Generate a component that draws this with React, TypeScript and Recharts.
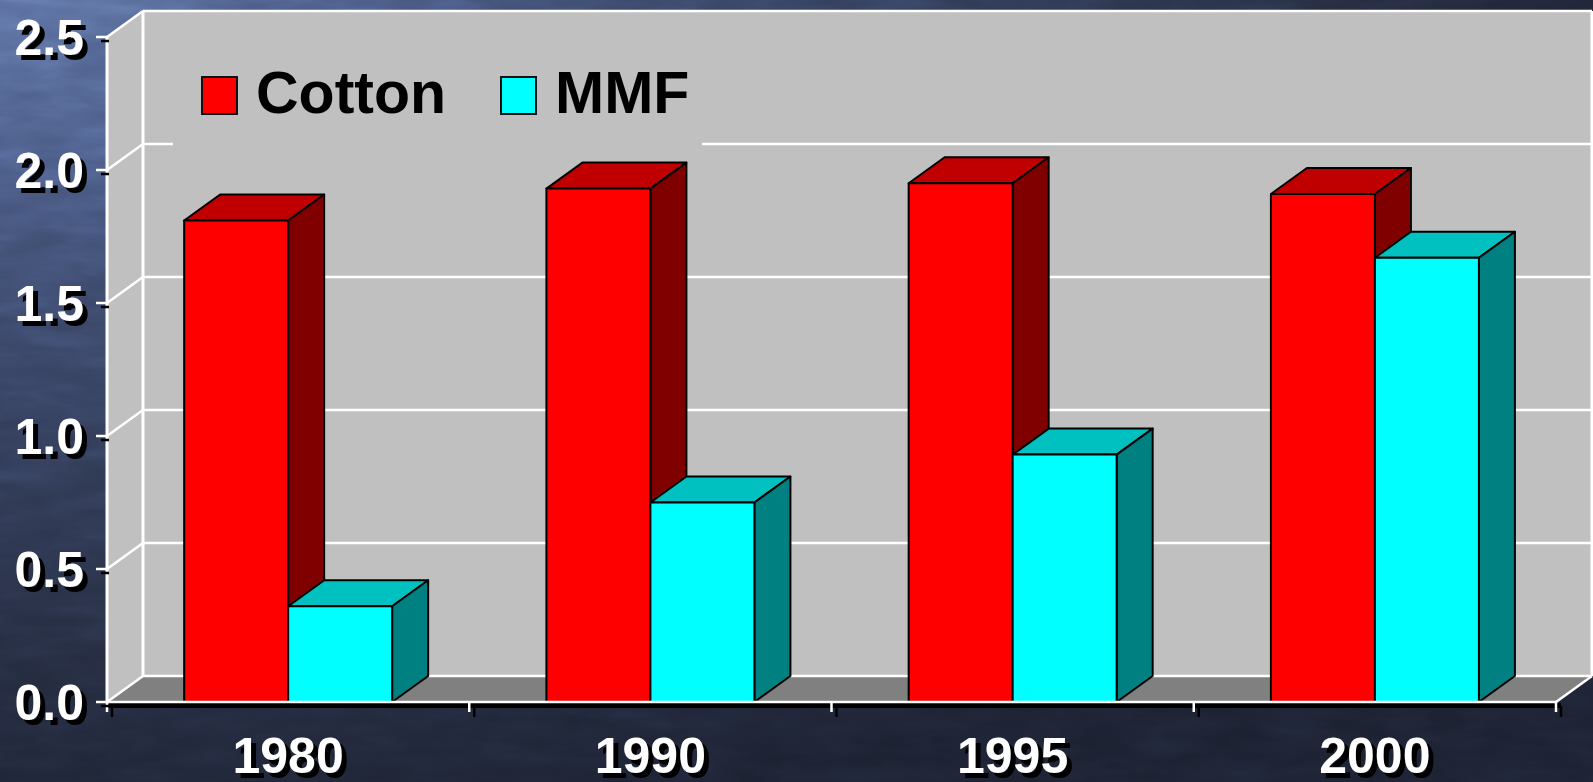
import React from 'react';
import { BarChart, Bar, XAxis, YAxis, CartesianGrid, Legend } from 'recharts';

// Fibre consumption by year
const years = ['1980', '1990', '1995', '2000'];
const cottonValues = [1.81, 1.93, 1.95, 1.91];
const mmfValues = [0.36, 0.75, 0.93, 1.67];
const yTicks = [0, 0.5, 1.0, 1.5, 2.0, 2.5];

const data = years.map((year, i) => ({ year, cotton: cottonValues[i], mmf: mmfValues[i] }));

const W = 1593;
const H = 782;
// depth of the 3D box (towards the back wall)
const DX = 36;
const DY = -26;
const FONT = '"Liberation Sans", Arial, Helvetica, sans-serif';
const SHADOW = 5;

const X_TICK_SIZE = 10;
const X_TICK_MARGIN = 26;
const Y_TICK_SIZE = 11;
const Y_TICK_MARGIN = 12;

const WALL = '#c0c0c0';
const FLOOR = '#808080';
const EDGE = '#ffffff';

// Walls, floor and grid lines of the 3D frame
const renderGridLine = (p: any) => {
  const { x1, x2, y1, index } = p;
  const pts: number[] = p.horizontalPoints || [y1];
  const top = typeof p.y === 'number' ? p.y : Math.min(...pts);
  const bottom = typeof p.height === 'number' ? p.y + p.height : Math.max(...pts);
  const left = x1;
  const right = x2;
  return (
    <g key={`grid-${index}`}>
      {index === 0 && (
        <g>
          <polygon
            points={`${left},${top} ${left + DX},${top + DY} ${left + DX},${bottom + DY} ${left},${bottom}`}
            fill={WALL}
          />
          <rect x={left + DX} y={top + DY} width={right - left} height={bottom - top} fill={WALL} />
          <polygon
            points={`${left},${bottom} ${left + DX},${bottom + DY} ${right + DX},${bottom + DY} ${right},${bottom}`}
            fill={FLOOR}
          />
          <line x1={left + 2} y1={bottom + 3.5} x2={right + SHADOW} y2={bottom + 3.5} stroke="#000" strokeWidth={5} />
          <line x1={left} y1={top} x2={left} y2={bottom} stroke={EDGE} strokeWidth={3} />
          <line x1={left + DX} y1={top + DY} x2={left + DX} y2={bottom + DY} stroke={EDGE} strokeWidth={3} />
          <line x1={right + DX} y1={top + DY} x2={right + DX} y2={bottom + DY} stroke={EDGE} strokeWidth={3} />
          <line x1={right} y1={bottom} x2={right + DX} y2={bottom + DY} stroke={EDGE} strokeWidth={2.5} />
        </g>
      )}
      <line x1={left + DX} y1={y1 + DY} x2={right + DX} y2={y1 + DY} stroke={EDGE} strokeWidth={2.5} />
      <line x1={left} y1={y1} x2={left + DX} y2={y1 + DY} stroke={EDGE} strokeWidth={2.5} />
    </g>
  );
};

// 3D box used for every bar
const makeBox = (front: string, topFace: string, sideFace: string) => (props: any) => {
  const { x, y, width, height } = props;
  if (!(height > 0) || !(width > 0)) return <g />;
  const r = x + width;
  const b = y + height;
  const stroke = { stroke: '#000', strokeWidth: 2, strokeLinejoin: 'round' as const };
  return (
    <g>
      <polygon points={`${x},${y} ${x + DX},${y + DY} ${r + DX},${y + DY} ${r},${y}`} fill={topFace} {...stroke} />
      <polygon points={`${r},${y} ${r + DX},${y + DY} ${r + DX},${b + DY} ${r},${b}`} fill={sideFace} {...stroke} />
      <rect x={x} y={y} width={width} height={height} fill={front} {...stroke} />
    </g>
  );
};

const CottonBox = makeBox('#ff0000', '#c00000', '#800000');
const MmfBox = makeBox('#00ffff', '#00c0c0', '#008080');

const labelStyle = { fontFamily: FONT, fontWeight: 700, fontSize: 50 };

const XTick = (props: any) => {
  const { x, y, payload, index, visibleTicksCount } = props;
  const half = payload && typeof payload.offset === 'number' ? payload.offset : 0;
  const axisY = y - X_TICK_SIZE - X_TICK_MARGIN;
  const count = visibleTicksCount || years.length;
  const bounds = [x - half];
  if (index === count - 1) bounds.push(x + half);
  return (
    <g>
      {bounds.map((bx, i) => (
        <g key={i}>
          <line x1={bx + SHADOW} y1={axisY + 4} x2={bx + SHADOW} y2={axisY + X_TICK_SIZE + SHADOW} stroke="#000" strokeWidth={2.5} />
          <line x1={bx} y1={axisY} x2={bx} y2={axisY + X_TICK_SIZE} stroke="#fff" strokeWidth={2.5} />
        </g>
      ))}
      <text x={x + SHADOW} y={y + SHADOW - 1} dy="0.71em" textAnchor="middle" fill="#000" style={labelStyle}>
        {payload.value}
      </text>
      <text x={x} y={y - 1} dy="0.71em" textAnchor="middle" fill="#fff" style={labelStyle}>
        {payload.value}
      </text>
    </g>
  );
};

const YTick = (props: any) => {
  const { x, y, payload } = props;
  const label = Number(payload.value).toFixed(1);
  const tx = x + Y_TICK_MARGIN;
  return (
    <g>
      <line x1={tx + SHADOW} y1={y + SHADOW - 1} x2={tx + Y_TICK_SIZE + 2} y2={y + SHADOW - 1} stroke="#000" strokeWidth={2.5} />
      <line x1={tx} y1={y} x2={tx + Y_TICK_SIZE} y2={y} stroke="#fff" strokeWidth={2.5} />
      <text x={x + SHADOW} y={y + SHADOW} dy="0.355em" textAnchor="end" fill="#000" style={labelStyle}>
        {label}
      </text>
      <text x={x} y={y} dy="0.355em" textAnchor="end" fill="#fff" style={labelStyle}>
        {label}
      </text>
    </g>
  );
};

const LegendContent = (props: any) => {
  const payload: any[] = props.payload || [];
  return (
    <div
      style={{
        display: 'flex',
        alignItems: 'center',
        width: '100%',
        height: '100%',
        paddingLeft: 28,
        boxSizing: 'border-box',
        background: WALL,
      }}
    >
      {payload.map((entry, i) => (
        <div key={`leg-${i}`} style={{ display: 'flex', alignItems: 'center', marginRight: 54 }}>
          <span
            style={{
              display: 'inline-block',
              width: 37,
              height: 39,
              background: entry.color,
              border: '2px solid #111',
              boxSizing: 'border-box',
              marginRight: 18,
              position: 'relative',
              top: 2,
            }}
          />
          <span style={{ fontFamily: FONT, fontWeight: 700, fontSize: 59, lineHeight: 1, color: '#000' }}>
            {entry.value}
          </span>
        </div>
      ))}
    </div>
  );
};

// Textured navy backdrop
const Backdrop = () => (
  <svg width={W} height={H} style={{ position: 'absolute', left: 0, top: 0 }}>
    <defs>
      <radialGradient id="bgGlow" cx="0" cy="0" r="1.1" gradientUnits="objectBoundingBox">
        <stop offset="0" stopColor="#5a6ea0" />
        <stop offset="0.35" stopColor="#3a4768" />
        <stop offset="0.75" stopColor="#252c40" />
        <stop offset="1" stopColor="#1c2131" />
      </radialGradient>
      <filter id="ripples" x="0" y="0" width="100%" height="100%">
        <feTurbulence type="fractalNoise" baseFrequency="0.015 0.06" numOctaves={3} seed={7} />
        <feColorMatrix type="saturate" values="0" />
      </filter>
    </defs>
    <rect x={0} y={0} width={W} height={H} fill="url(#bgGlow)" />
    <rect x={0} y={0} width={W} height={H} filter="url(#ripples)" opacity={0.45} style={{ mixBlendMode: 'overlay' }} />
  </svg>
);

export default function App() {
  return (
    <div style={{ position: 'fixed', left: 0, top: 0, width: W, height: H, overflow: 'hidden', background: '#252c40' }}>
      <Backdrop />
      <div style={{ position: 'absolute', left: 0, top: 0 }}>
        <BarChart
          width={W}
          height={H}
          data={data}
          margin={{ top: 37, right: 37, bottom: 0, left: 0 }}
          barCategoryGap="21.3%"
          barGap={0}
        >
          <CartesianGrid horizontal={renderGridLine} vertical={false} />
          <XAxis
            dataKey="year"
            type="category"
            height={80}
            axisLine={{ stroke: '#fff', strokeWidth: 2.5 }}
            tickLine={false}
            tickSize={X_TICK_SIZE}
            tickMargin={X_TICK_MARGIN}
            tick={<XTick />}
            interval={0}
          />
          <YAxis
            width={107}
            domain={[0, 2.5]}
            ticks={yTicks}
            type="number"
            axisLine={false}
            tickLine={false}
            tickSize={Y_TICK_SIZE}
            tickMargin={Y_TICK_MARGIN}
            tick={<YTick />}
            interval={0}
          />
          <Legend
            layout="horizontal"
            verticalAlign="middle"
            align="center"
            content={<LegendContent />}
            wrapperStyle={{ left: 173, top: 40, width: 529, height: 106 }}
          />
          <Bar dataKey="cotton" name="Cotton" fill="#ff0000" legendType="square" shape={CottonBox} isAnimationActive={false} />
          <Bar dataKey="mmf" name="MMF" fill="#00ffff" legendType="square" shape={MmfBox} isAnimationActive={false} />
        </BarChart>
      </div>
    </div>
  );
}
